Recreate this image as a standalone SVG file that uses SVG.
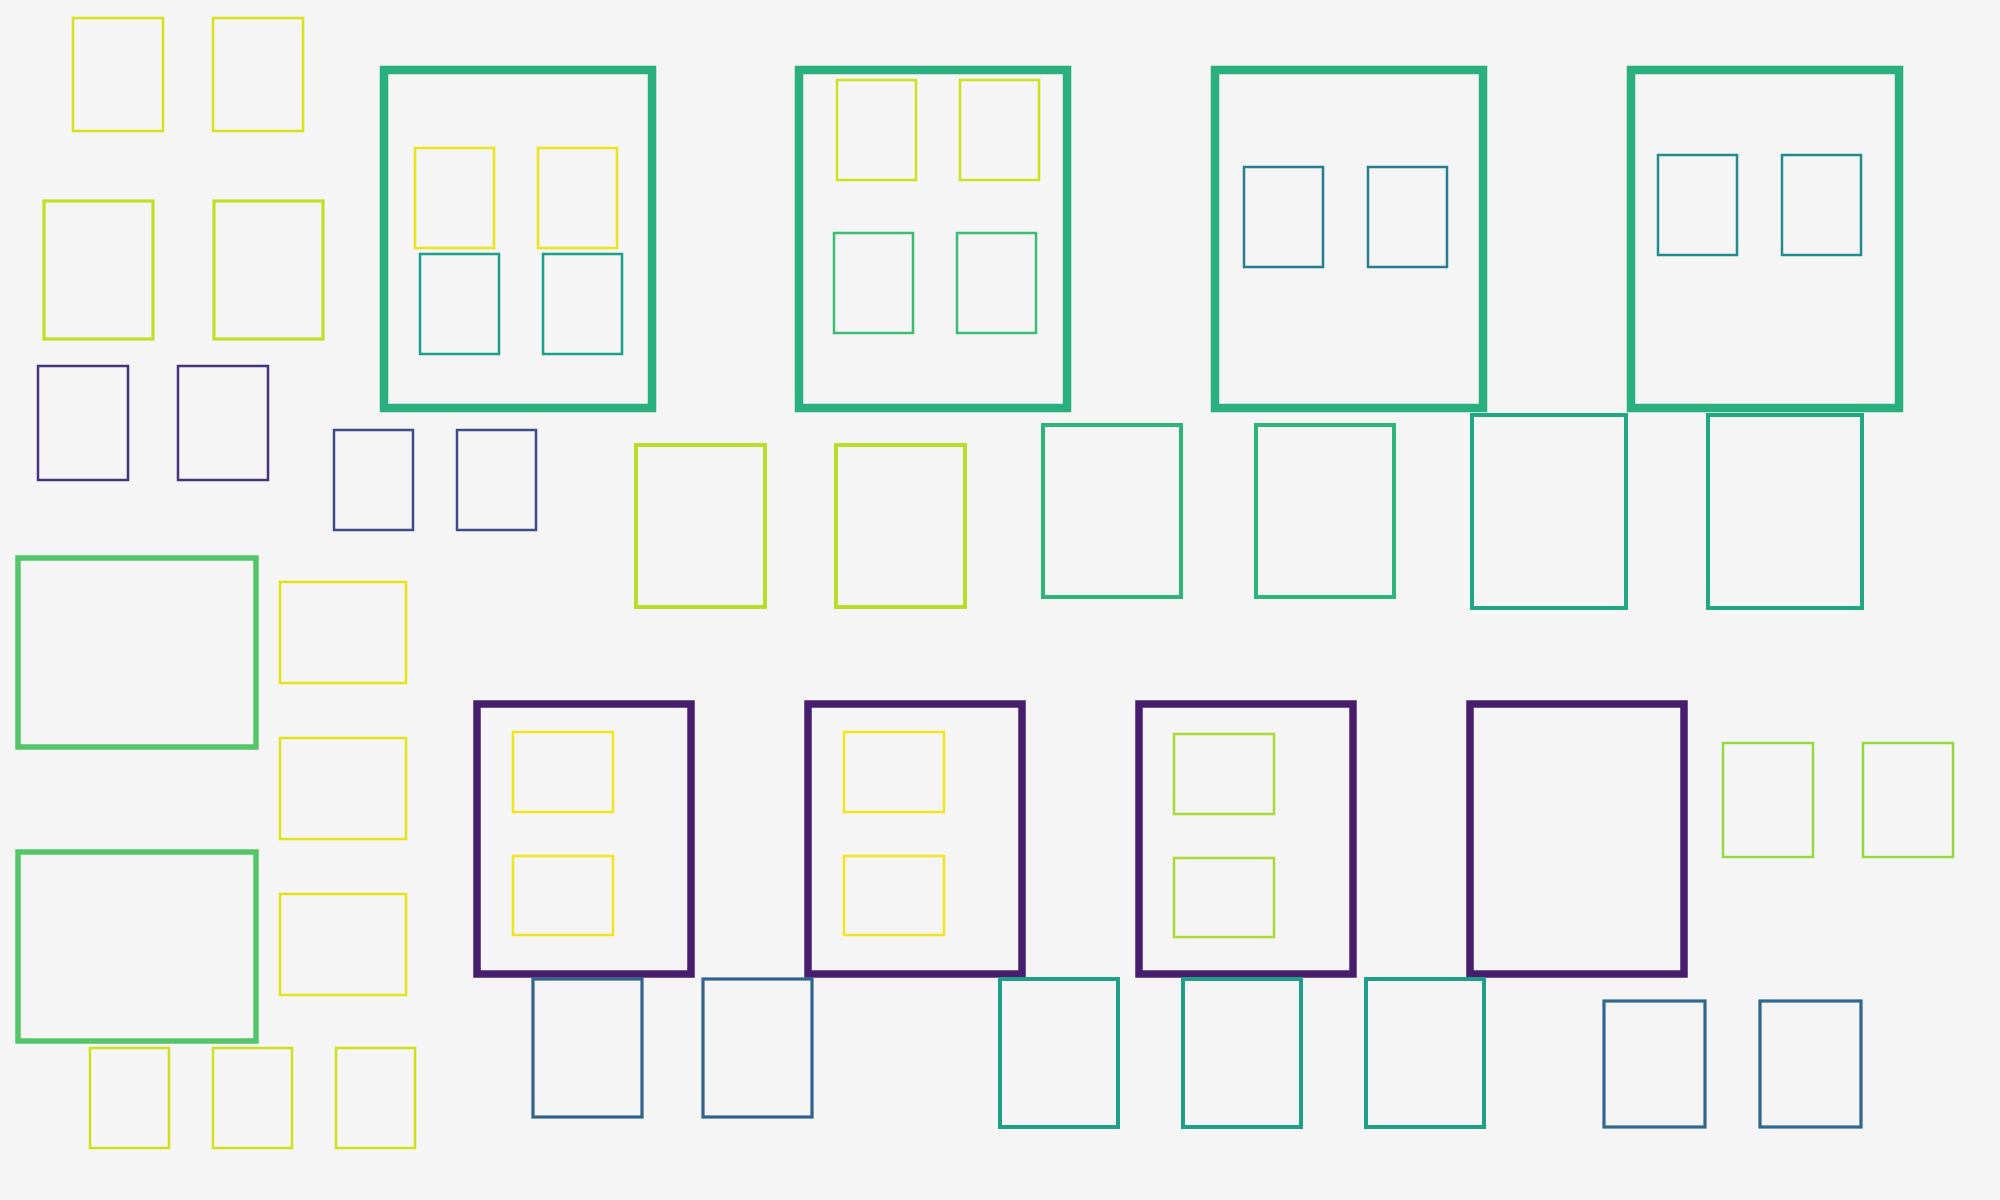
<svg xmlns="http://www.w3.org/2000/svg" width="2000" height="1200" viewBox="0 0 2000 1200">
<style>
rect{fill:none}
.bg{fill:#f5f5f5}
.s1{stroke-width:2.5}
.s2{stroke-width:3.2}
.s3{stroke-width:4}
.s4{stroke-width:5.5}
.s5{stroke-width:8.5}
.s6{stroke-width:7.5}
.cA{stroke:#d8e219}
.cB{stroke:#c0df25}
.cC{stroke:#46337e}
.cG{stroke:#2ab07f}
.cY{stroke:#ebe51a}
.cT{stroke:#1f9e89}
.cD{stroke:#3e4c8a}
.cY3{stroke:#cde11d}
.cE{stroke:#3dbc74}
.cH{stroke:#287d8e}
.cI{stroke:#228b8d}
.cF{stroke:#b8de29}
.cM{stroke:#2fb47c}
.cN{stroke:#22a785}
.cK{stroke:#54c568}
.cL{stroke:#e2e418}
.cS{stroke:#d0e11c}
.cP{stroke:#471d6e}
.cPY{stroke:#f1e51d}
.cPG{stroke:#a8db34}
.cQ{stroke:#33638d}
.cR{stroke:#1f9f88}
.cU{stroke:#95d840}
.cV{stroke:#31668e}
</style>
<rect class="bg" x="0" y="0" width="2000" height="1200"/>
<g id="connectors"/>
<g id="n-a1"><rect class="cA s1" x="73" y="18" width="90" height="113"/></g>
<g id="n-a2"><rect class="cA s1" x="213" y="18" width="90" height="113"/></g>
<g id="n-b1"><rect class="cB s2" x="44" y="201" width="109" height="138"/></g>
<g id="n-b2"><rect class="cB s2" x="214" y="201" width="109" height="138"/></g>
<g id="n-c1"><rect class="cC s1" x="38" y="366" width="90" height="114"/></g>
<g id="n-c2"><rect class="cC s1" x="178" y="366" width="90" height="114"/></g>
<g id="n-g1">
<rect class="cG s5" x="384" y="70" width="268" height="338"/>
<g id="n-g1-y1"><rect class="cY s1" x="415" y="148" width="79" height="100"/></g>
<g id="n-g1-y2"><rect class="cY s1" x="538" y="148" width="79" height="100"/></g>
<g id="n-g1-t1"><rect class="cT s1" x="420" y="254" width="79" height="100"/></g>
<g id="n-g1-t2"><rect class="cT s1" x="543" y="254" width="79" height="100"/></g>
</g>
<g id="n-d1"><rect class="cD s1" x="334" y="430" width="79" height="100"/></g>
<g id="n-d2"><rect class="cD s1" x="457" y="430" width="79" height="100"/></g>
<g id="n-g2">
<rect class="cG s5" x="799" y="70" width="268" height="338"/>
<g id="n-g2-y1"><rect class="cY3 s1" x="837" y="80" width="79" height="100"/></g>
<g id="n-g2-y2"><rect class="cY3 s1" x="960" y="80" width="79" height="100"/></g>
<g id="n-g2-e1"><rect class="cE s1" x="834" y="233" width="79" height="100"/></g>
<g id="n-g2-e2"><rect class="cE s1" x="957" y="233" width="79" height="100"/></g>
</g>
<g id="n-g3">
<rect class="cG s5" x="1215" y="70" width="268" height="338"/>
<g id="n-g3-h1"><rect class="cH s1" x="1244" y="167" width="79" height="100"/></g>
<g id="n-g3-h2"><rect class="cH s1" x="1368" y="167" width="79" height="100"/></g>
</g>
<g id="n-g4">
<rect class="cG s5" x="1631" y="70" width="268" height="338"/>
<g id="n-g4-i1"><rect class="cI s1" x="1658" y="155" width="79" height="100"/></g>
<g id="n-g4-i2"><rect class="cI s1" x="1782" y="155" width="79" height="100"/></g>
</g>
<g id="n-f1"><rect class="cF s3" x="636" y="445" width="129" height="162"/></g>
<g id="n-f2"><rect class="cF s3" x="836" y="445" width="129" height="162"/></g>
<g id="n-m1"><rect class="cM s3" x="1043" y="425" width="138" height="172"/></g>
<g id="n-m2"><rect class="cM s3" x="1256" y="425" width="138" height="172"/></g>
<g id="n-n1"><rect class="cN s3" x="1472" y="415" width="154" height="193"/></g>
<g id="n-n2"><rect class="cN s3" x="1708" y="415" width="154" height="193"/></g>
<g id="n-k1"><rect class="cK s4" x="18" y="558" width="238" height="189"/></g>
<g id="n-k2"><rect class="cK s4" x="18" y="852" width="238" height="189"/></g>
<g id="n-l1"><rect class="cL s1" x="280" y="582" width="126" height="101"/></g>
<g id="n-l2"><rect class="cL s1" x="280" y="738" width="126" height="101"/></g>
<g id="n-l3"><rect class="cL s1" x="280" y="894" width="126" height="101"/></g>
<g id="n-s1"><rect class="cS s1" x="90" y="1048" width="79" height="100"/></g>
<g id="n-s2"><rect class="cS s1" x="213" y="1048" width="79" height="100"/></g>
<g id="n-s3"><rect class="cS s1" x="336" y="1048" width="79" height="100"/></g>
<g id="n-p1">
<rect class="cP s6" x="477" y="704" width="214" height="270"/>
<g id="n-p1-a"><rect class="cPY s1" x="513" y="732" width="100" height="80"/></g>
<g id="n-p1-b"><rect class="cPY s1" x="513" y="856" width="100" height="79"/></g>
</g>
<g id="n-p2">
<rect class="cP s6" x="808" y="704" width="214" height="270"/>
<g id="n-p2-a"><rect class="cPY s1" x="844" y="732" width="100" height="80"/></g>
<g id="n-p2-b"><rect class="cPY s1" x="844" y="856" width="100" height="79"/></g>
</g>
<g id="n-p3">
<rect class="cP s6" x="1139" y="704" width="214" height="270"/>
<g id="n-p3-a"><rect class="cPG s1" x="1174" y="734" width="100" height="80"/></g>
<g id="n-p3-b"><rect class="cPG s1" x="1174" y="858" width="100" height="79"/></g>
</g>
<g id="n-p4"><rect class="cP s6" x="1470" y="704" width="214" height="270"/></g>
<g id="n-u1"><rect class="cU s1" x="1723" y="743" width="90" height="114"/></g>
<g id="n-u2"><rect class="cU s1" x="1863" y="743" width="90" height="114"/></g>
<g id="n-q1"><rect class="cQ s2" x="533" y="979" width="109" height="138"/></g>
<g id="n-q2"><rect class="cQ s2" x="703" y="979" width="109" height="138"/></g>
<g id="n-r1"><rect class="cR s3" x="1000" y="979" width="118" height="148"/></g>
<g id="n-r2"><rect class="cR s3" x="1183" y="979" width="118" height="148"/></g>
<g id="n-r3"><rect class="cR s3" x="1366" y="979" width="118" height="148"/></g>
<g id="n-v1"><rect class="cV s2" x="1604" y="1001" width="101" height="126"/></g>
<g id="n-v2"><rect class="cV s2" x="1760" y="1001" width="101" height="126"/></g>
</svg>
